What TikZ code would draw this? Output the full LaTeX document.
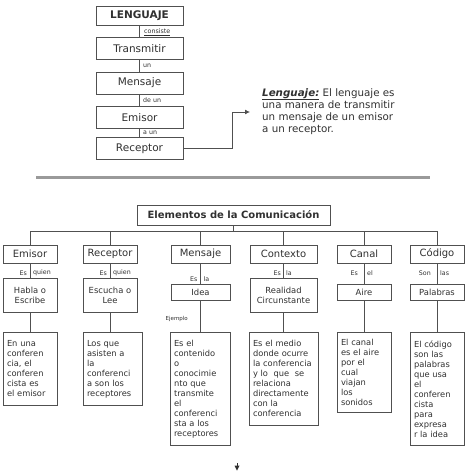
\documentclass[tikz,border=0pt]{standalone}
\usepackage{fontspec}
\setmainfont{DejaVu Sans}
\usetikzlibrary{arrows.meta}
\definecolor{bd}{HTML}{505050}
\definecolor{tx}{HTML}{303030}
\definecolor{sepc}{HTML}{9A9A9A}
\begin{document}
\begin{tikzpicture}[x=1pt,y=-1pt,
  box/.style={draw=bd, line width=0.8pt, text=tx, inner sep=0pt, anchor=center},
  topbox/.style={box, minimum width=87pt, minimum height=22pt, font=\fontsize{10.5}{12}\selectfont},
  lbl/.style={text=tx, inner sep=0pt, font=\fontsize{6.3}{7}\selectfont},
  conn/.style={draw=bd, line width=0.8pt},
  rowa/.style={box, minimum height=18pt, font=\fontsize{10}{12}\selectfont},
  rowb/.style={box, align=center, font=\fontsize{8.4}{10}\selectfont},
  rowc/.style={box, anchor=north, align=left, inner xsep=4pt, font=\fontsize{8.3}{10}\selectfont}]
\useasboundingbox (0,0) rectangle (474,474);

% ---- top chain
\node[topbox, minimum height=19pt, font=\bfseries\fontsize{10.5}{12}\selectfont] (leng) at (139.5,16) {LENGUAJE};
\node[topbox] (trans) at (139.5,48.5) {Transmitir};
\node[topbox] (mens) at (139.5,83) {Mensaje};
\node[topbox] (emi) at (139.5,117.5) {Emisor};
\node[topbox] (rec) at (139.5,148.5) {Receptor};
\draw[conn] (leng) -- (trans);
\draw[conn] (trans) -- (mens);
\draw[conn] (mens) -- (emi);
\draw[conn] (emi) -- (rec);
\node[lbl, anchor=west] (l1) at (144,32) {\underline{consiste}};
\node[lbl, anchor=west] (l2) at (143,65.5) {un};
\node[lbl, anchor=west] (l3) at (143,100) {de un};
\node[lbl, anchor=west] (l4) at (143,132.5) {a un};

\node[text=tx, inner sep=0pt, anchor=north west, align=left, font=\fontsize{10.3}{12.3}\selectfont] (def) at (262,88)
  {{\bfseries\itshape\underline{Lenguaje:}} El lenguaje es\\una manera de transmitir\\un mensaje de un emisor\\a un receptor.};
\coordinate (c1) at (232,148.5);
\coordinate (c2) at (232,112);
\coordinate (c3) at (250,112);
\draw[conn, -{Latex[length=5pt,width=5pt]}] (rec.east) -- (c1) -- (c2) -- (c3);

% ---- separator
\draw[sepc, line width=3pt] (36,177.5) -- (430,177.5);

% ---- tree
\node[box, minimum width=193pt, minimum height=20pt, font=\bfseries\fontsize{10}{12}\selectfont] (elem) at (233.5,215) {Elementos de la Comunicación};
\coordinate (bar) at (233.5,231);

\node[rowa, minimum width=54pt] (emisor) at (30,254) {Emisor};
\node[rowa, minimum width=54pt] (receptor) at (110,254) {Receptor};
\node[rowa, minimum width=59pt] (mensaje) at (200.5,254) {Mensaje};
\node[rowa, minimum width=67pt] (contexto) at (283.5,254) {Contexto};
\node[rowa, minimum width=54pt] (canal) at (364,254) {Canal};
\node[rowa, minimum width=54pt] (codigo) at (437,254) {Código};

\draw[conn] (elem) -- (elem.south |- bar);
\draw[conn] (emisor.north |- bar) -- (codigo.north |- bar);
\foreach \n in {emisor,receptor,mensaje,contexto,canal,codigo}
  \draw[conn] (\n) -- (\n.north |- bar);

\node[rowb, minimum width=54pt, minimum height=34pt] (habla) at (30,295) {Habla o\\Escribe};
\node[rowb, minimum width=54pt, minimum height=34pt] (escucha) at (110,295) {Escucha o\\Lee};
\node[rowb, minimum width=59pt, minimum height=16pt] (idea) at (200.5,292) {Idea};
\node[rowb, minimum width=67pt, minimum height=34pt] (realidad) at (283.5,295) {Realidad\\Circunstante};
\node[rowb, minimum width=54pt, minimum height=16pt] (aire) at (364,292) {Aire};
\node[rowb, minimum width=54pt, minimum height=16pt] (palabras) at (437,292) {Palabras};

\foreach \a/\b in {emisor/habla,receptor/escucha,mensaje/idea,contexto/realidad,canal/aire,codigo/palabras}
  \draw[conn] (\a) -- (\b);

\node[lbl, anchor=east] (e1) at (27,273) {Es};
\node[lbl, anchor=west] (q1) at (33,273) {quien};
\node[lbl, anchor=east] (e2) at (107,273) {Es};
\node[lbl, anchor=west] (q2) at (113,273) {quien};
\node[lbl, anchor=east] (e3) at (197.5,279) {Es};
\node[lbl, anchor=west] (q3) at (203.5,279) {la};
\node[lbl, anchor=east] (e4) at (281,273) {Es};
\node[lbl, anchor=west] (q4) at (286,273) {la};
\node[lbl, anchor=east] (e5) at (358,273) {Es};
\node[lbl, anchor=west] (q5) at (367,273) {el};
\node[lbl, anchor=east] (e6) at (431,273) {Son};
\node[lbl, anchor=west] (q6) at (440,273) {las};
\node[lbl, anchor=east, font=\fontsize{5.5}{6}\selectfont] (ej) at (188,319) {Ejemplo};

\node[rowc, text width=46pt, minimum height=73pt] (emisord) at (30,332)
  {En una\\conferen\\cia, el\\conferen\\cista es\\el emisor};
\node[rowc, text width=51pt, minimum height=73pt] (receptord) at (112.5,332)
  {Los que\\asisten a\\la\\conferenci\\a son los\\receptores};
\node[rowc, text width=52pt, minimum height=113pt] (mensajed) at (200,332)
  {Es el\\contenido\\o\\conocimie\\nto que\\transmite\\el\\conferenci\\sta a los\\receptores};
\node[rowc, text width=61pt, minimum height=93pt] (contextod) at (283.5,332)
  {Es el medio\\donde ocurre\\la conferencia\\y lo~ que~ se\\relaciona\\directamente\\con la\\conferencia};
\node[rowc, text width=46pt, minimum height=80pt] (canald) at (364,332)
  {El canal\\es el aire\\por el\\cual\\viajan\\los\\sonidos};
\node[rowc, text width=46pt, minimum height=113pt] (codigod) at (437,332)
  {El código\\son las\\palabras\\que usa\\el\\conferen\\cista\\para\\expresa\\r la idea};

\foreach \a/\b in {habla/emisord,escucha/receptord,idea/mensajed,realidad/contextod,aire/canald,palabras/codigod}
  \draw[conn] (\a.south) -- (\a.south |- \b.north);

% small arrowhead at the bottom
\draw[tx, line width=0.5pt] (237,463) -- (237,466);
\fill[tx] (234.5,465.5) -- (239.5,465.5) -- (237,470.5) -- cycle;
\end{tikzpicture}
\end{document}
